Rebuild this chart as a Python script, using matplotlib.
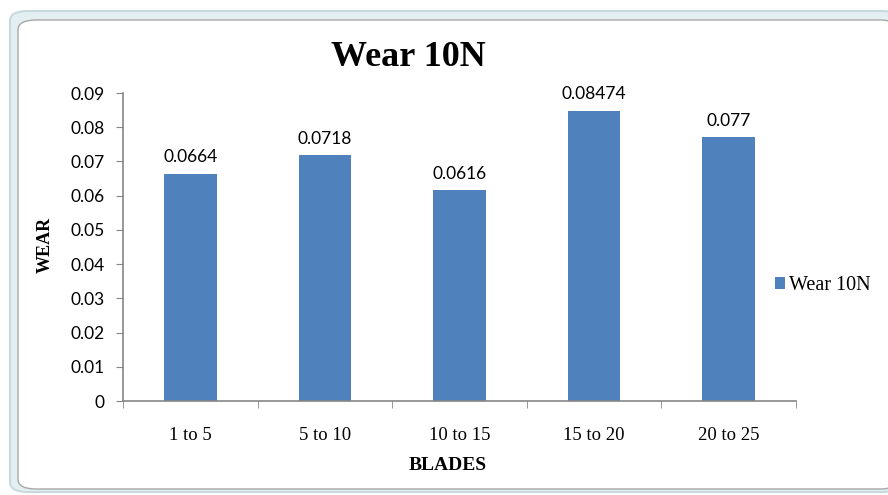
import matplotlib
matplotlib.use("Agg")
import matplotlib.pyplot as plt
from matplotlib.patches import FancyBboxPatch, Patch
import numpy as np

categories = ["1 to 5", "5 to 10", "10 to 15", "15 to 20", "20 to 25"]
wear = [0.0664, 0.0718, 0.0616, 0.08474, 0.077]
labels = ["0.0664", "0.0718", "0.0616", "0.08474", "0.077"]
yticks = [0, 0.01, 0.02, 0.03, 0.04, 0.05, 0.06, 0.07, 0.08, 0.09]
ytick_labels = ["0", "0.01", "0.02", "0.03", "0.04", "0.05", "0.06", "0.07", "0.08", "0.09"]

plt.rcParams["font.family"] = ["Liberation Serif", "DejaVu Serif"]
NUM_FONT = ["Lato", "DejaVu Sans"]

W, H = 888, 495
fig = plt.figure(figsize=(W / 100, H / 100), dpi=100)
fig.patch.set_facecolor("white")

# outer chart frame with rounded corners
frame = FancyBboxPatch((10 / W, 3 / H), 890 / W, 481 / H,
                       boxstyle="round,pad=0,rounding_size=0.02",
                       transform=fig.transFigure, facecolor="#e4eff1",
                       edgecolor="#c8dadd", linewidth=1.5, zorder=-10)
fig.patches.append(frame)
inner = FancyBboxPatch((18 / W, 6 / H), 880 / W, 469 / H,
                       boxstyle="round,pad=0,rounding_size=0.02",
                       transform=fig.transFigure, facecolor="white",
                       edgecolor="#a8a8a8", linewidth=1, zorder=-9)
fig.patches.append(inner)

ax = fig.add_axes([123 / W, 1 - 401 / H, 673 / W, 308 / H])
ax.set_facecolor("none")
x = np.arange(len(categories))
bars = ax.bar(x, wear, width=0.39, color="#4f81bd", zorder=2)

for xi, v, lab in zip(x, wear, labels):
    ax.text(xi, v + 0.0025, lab, ha="center", va="bottom", fontsize=12.5,
            color="black", family=NUM_FONT)

ax.set_xlim(-0.5, len(categories) - 0.5)
ax.set_ylim(0, 0.09)
ax.set_yticks(yticks)
ax.set_yticklabels(ytick_labels, fontsize=12.5, family=NUM_FONT)
ax.set_xticks(x)
ax.set_xticklabels(categories, fontsize=13.5)
ax.tick_params(axis="x", length=0, pad=19)
ax.set_xticks(np.arange(-0.5, len(categories)), minor=True)
ax.tick_params(axis="x", which="minor", length=5, color="#868686")
ax.tick_params(axis="y", length=5, color="#868686", pad=8)

for s in ["top", "right"]:
    ax.spines[s].set_visible(False)
for s in ["left", "bottom"]:
    ax.spines[s].set_color("#868686")
    ax.spines[s].set_linewidth(1.2)

fig.text(408 / W, 1 - 57 / H, "Wear 10N", ha="center", va="center",
         fontsize=26, fontweight="bold")
fig.text(45 / W, 1 - 245 / H, "WEAR", ha="center", va="center",
         rotation=90, fontsize=13, fontweight="bold")
fig.text(448 / W, 1 - 466 / H, "BLADES", ha="center", va="center",
         fontsize=14, fontweight="bold")

handle = Patch(facecolor="#4f81bd", edgecolor="none")
fig.legend([handle], ["Wear 10N"], loc="center left",
           bbox_to_anchor=(765 / W, 1 - 286 / H), frameon=False,
           fontsize=14.5, handlelength=0.5, handleheight=0.55,
           handletextpad=0.2, borderpad=0)

fig.savefig("out.png", dpi=100)
